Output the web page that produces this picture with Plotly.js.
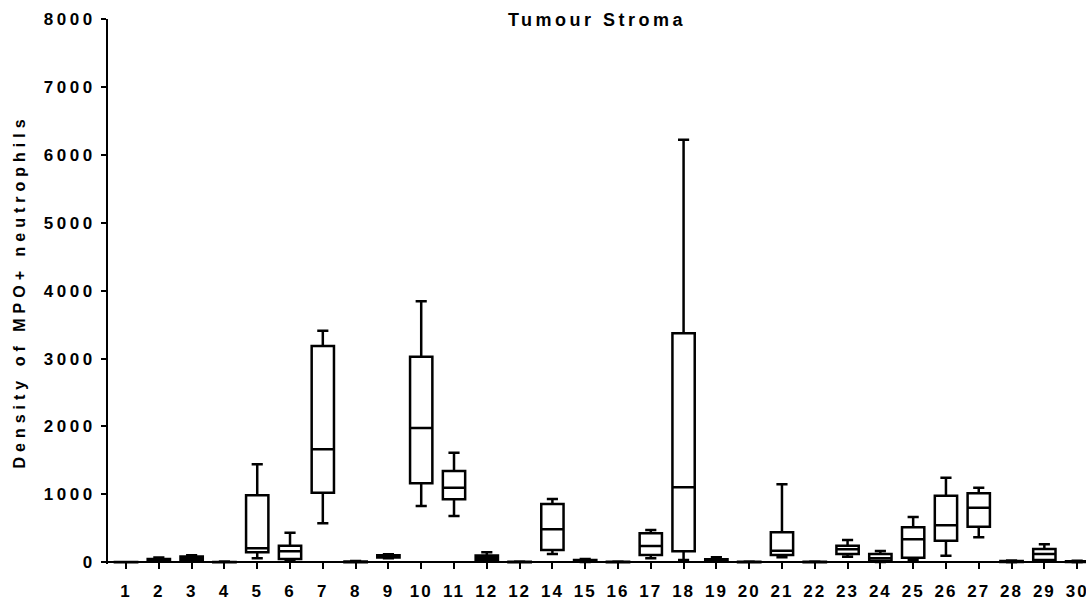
<!DOCTYPE html>
<html>
<head>
<meta charset="utf-8">
<script src="https://cdn.plot.ly/plotly-3.0.1.min.js"></script>
<style>
  html, body { margin: 0; padding: 0; background: #fff; }
  #chart { width: 1086px; height: 603px; }
  .ytick text { letter-spacing: 3.5px; }
  .xtick text { letter-spacing: 2px; }
  .g-gtitle text { letter-spacing: 3.5px; }
  .g-ytitle text { letter-spacing: 5px; }
</style>
</head>
<body>
<div id="chart"></div>
<script>
// Sample positions and their printed labels (sample 13 is printed as "12")
const positions = [1,2,3,4,5,6,7,8,9,10,11,12,13,14,15,16,17,18,19,20,21,22,23,24,25,26,27,28,29,30];
const tickLabels = ['1','2','3','4','5','6','7','8','9','10','11','12','12','14','15','16','17','18','19','20','21','22','23','24','25','26','27','28','29','30'];

// Box statistics per sample: whisker ends, quartiles and median
const minValues    = [0, 8, 12, 0, 60, 20, 574, 0, 60, 829, 682, 15, 0, 122, 5, 0, 59, 34, 8, 0, 74, 0, 83, 5, 34, 97, 368, 0, 20, 0];
const q1Values     = [1, 12, 20, 1, 147, 49, 1025, 2, 70, 1164, 928, 34, 2, 181, 12, 2, 108, 162, 15, 2, 108, 2, 122, 20, 68, 318, 525, 5, 34, 3];
const medianValues = [2, 28, 55, 3, 206, 162, 1664, 5, 85, 1978, 1099, 65, 5, 486, 22, 4, 240, 1105, 28, 5, 171, 4, 191, 59, 339, 545, 804, 10, 122, 8];
const q3Values     = [4, 48, 85, 6, 987, 245, 3186, 10, 105, 3028, 1345, 100, 8, 859, 35, 8, 427, 3374, 45, 8, 442, 8, 245, 122, 515, 981, 1016, 18, 196, 15];
const maxValues    = [6, 70, 105, 10, 1445, 436, 3411, 20, 120, 3845, 1614, 147, 12, 932, 50, 12, 476, 6221, 74, 12, 1149, 12, 328, 166, 667, 1246, 1099, 25, 265, 22];

const yMin = -25, yMax = 8000;

const trace = {
  type: 'box',
  x: positions,
  q1: q1Values,
  median: medianValues,
  q3: q3Values,
  lowerfence: minValues,
  upperfence: maxValues,
  boxpoints: false,
  width: 0.68,
  whiskerwidth: 0.5,
  fillcolor: 'rgba(255,255,255,0)',
  line: { color: '#000', width: 2.5 },
  hoverinfo: 'none',
  showlegend: false
};

const baseFont = { family: 'Liberation Sans, Arial, sans-serif', color: '#000' };

const layout = {
  width: 1086,
  height: 603,
  margin: { l: 108, r: 0, t: 19, b: 39, pad: 0 },
  paper_bgcolor: '#fff',
  plot_bgcolor: '#fff',
  showlegend: false,
  title: {
    text: 'Tumour Stroma',
    font: Object.assign({}, baseFont, { size: 18, weight: 'bold' }),
    x: 0.5, xref: 'paper', xanchor: 'center',
    y: 1 - 20 / 603, yref: 'container', yanchor: 'middle'
  },
  xaxis: {
    range: [0.45, 30.27],
    tickmode: 'array',
    tickvals: positions,
    ticktext: tickLabels,
    showgrid: false,
    zeroline: false,
    showline: true,
    linecolor: '#000',
    linewidth: 2,
    ticks: 'outside',
    ticklen: 6,
    tickwidth: 2,
    tickcolor: '#000',
    ticklabelstandoff: 7,
    ticklabeloverflow: 'allow',
    anchor: 'free',
    position: (0 - yMin) / (yMax - yMin),
    tickfont: Object.assign({}, baseFont, { size: 17, weight: 'bold' }),
    fixedrange: true
  },
  yaxis: {
    range: [yMin, yMax],
    tickmode: 'linear',
    tick0: 0,
    dtick: 1000,
    showgrid: false,
    zeroline: false,
    showline: true,
    linecolor: '#000',
    linewidth: 2,
    ticks: 'outside',
    ticklen: 5,
    tickwidth: 2,
    tickcolor: '#000',
    ticklabelstandoff: 2,
    tickfont: Object.assign({}, baseFont, { size: 17, weight: 'bold' }),
    title: {
      text: 'Density of MPO+ neutrophils',
      font: Object.assign({}, baseFont, { size: 16, weight: 'bold' }),
      standoff: 14
    },
    fixedrange: true
  }
};

Plotly.newPlot('chart', [trace], layout, { staticPlot: true, displayModeBar: false });
</script>
</body>
</html>
